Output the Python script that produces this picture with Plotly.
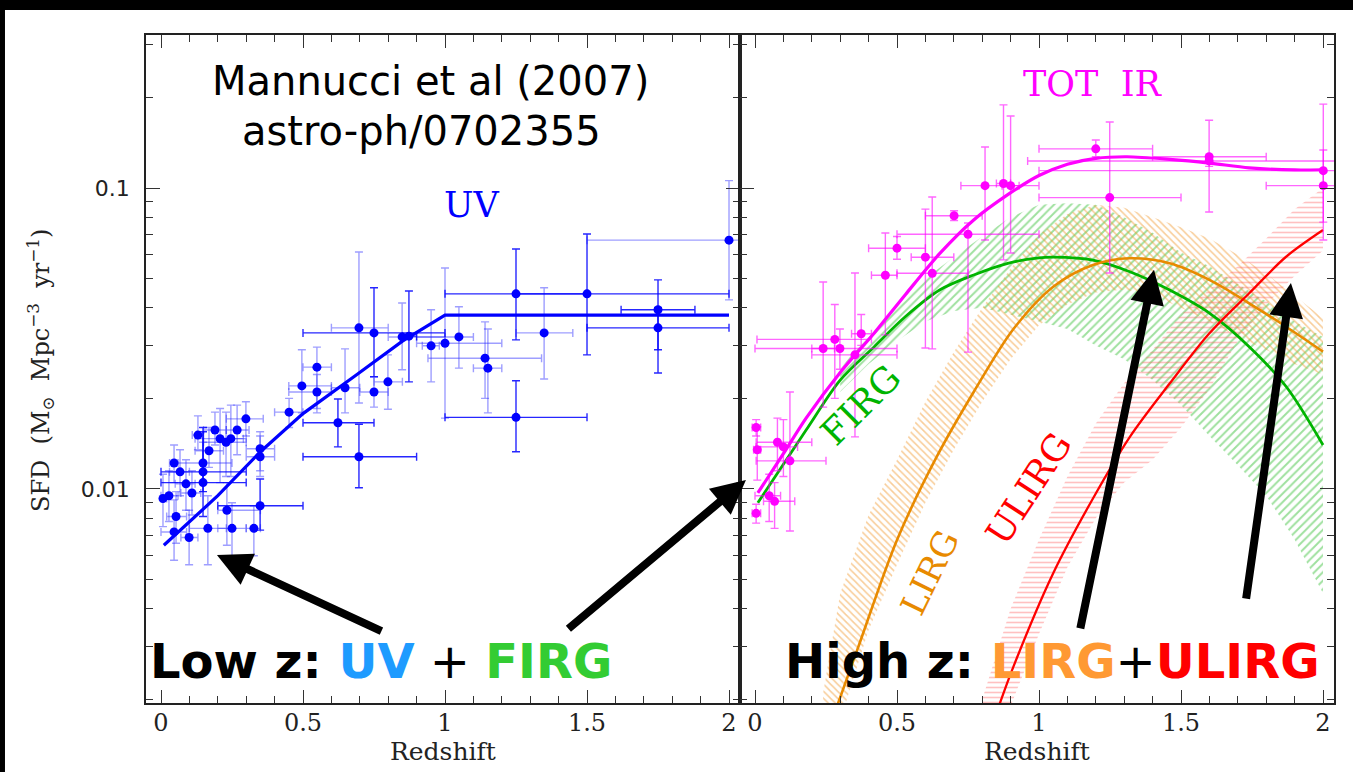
import numpy as np
import plotly.graph_objects as go

# ---------------- UV star-formation density (left panel) ----------------
uv_z = [0.007, 0.028, 0.046, 0.067, 0.088, 0.109, 0.053, 0.046, 0.099, 0.130,
        0.148, 0.148, 0.148, 0.169, 0.165, 0.190, 0.208, 0.229, 0.246, 0.268,
        0.232, 0.250, 0.299, 0.327, 0.349, 0.349, 0.349, 0.451, 0.496, 0.549,
        0.549, 0.623, 0.648, 0.697, 0.697, 0.750, 0.750, 0.799, 0.849, 0.873,
        0.951, 1.000, 1.049, 1.141, 1.151, 1.250, 1.250, 1.349, 1.500, 1.750,
        1.750, 2.000]
uv_sfd = [0.0093, 0.0095, 0.0122, 0.0114, 0.0104, 0.0097, 0.0081, 0.0072, 0.0069, 0.0151,
          0.0122, 0.0114, 0.0105, 0.0134, 0.0074, 0.0157, 0.0147, 0.0143, 0.0147, 0.0157,
          0.0085, 0.0074, 0.0171, 0.0074, 0.0136, 0.0128, 0.0088, 0.0180, 0.0220, 0.0254,
          0.0210, 0.0166, 0.0217, 0.0343, 0.0128, 0.0330, 0.0210, 0.0227, 0.0320, 0.0322,
          0.0299, 0.0305, 0.0320, 0.0272, 0.0252, 0.0445, 0.0173, 0.0330, 0.0445, 0.0394,
          0.0343, 0.0671]
uv_z_lo = [0.0, 0.0, 0.03, 0.03, 0.05, 0.07, 0.02, 0.0, 0.07, 0.11,
           0.05, 0.0, 0.0, 0.12, 0.10, 0.15, 0.12, 0.15, 0.20, 0.23,
           0.20, 0.20, 0.23, 0.30, 0.30, 0.30, 0.20, 0.40, 0.45, 0.50,
           0.45, 0.50, 0.60, 0.60, 0.50, 0.50, 0.70, 0.75, 0.80, 0.85,
           0.92, 0.90, 0.90, 0.94, 1.10, 1.00, 1.00, 1.25, 1.25, 1.62,
           1.50, 1.50]
uv_z_hi = [0.02, 0.06, 0.06, 0.10, 0.12, 0.14, 0.09, 0.09, 0.13, 0.15,
           0.25, 0.30, 0.30, 0.22, 0.23, 0.23, 0.30, 0.30, 0.29, 0.31,
           0.35, 0.30, 0.36, 0.35, 0.40, 0.40, 0.50, 0.50, 0.60, 0.60,
           0.60, 0.75, 0.70, 0.80, 0.90, 1.00, 0.80, 0.85, 1.00, 0.90,
           0.98, 1.20, 1.10, 1.34, 1.20, 1.50, 1.50, 1.45, 2.00, 1.88,
           2.00, 2.50]
uv_sfd_lo = [0.0075, 0.0078, 0.0105, 0.0095, 0.0085, 0.0082, 0.0066, 0.0058, 0.0056, 0.0135,
             0.0105, 0.0098, 0.0081, 0.0118, 0.0056, 0.0140, 0.0105, 0.0110, 0.0110, 0.0130,
             0.0065, 0.0060, 0.0150, 0.0060, 0.0115, 0.0110, 0.0073, 0.0160, 0.0179, 0.0179,
             0.0185, 0.0138, 0.0179, 0.0193, 0.0101, 0.0236, 0.0187, 0.0184, 0.0249, 0.0227,
             0.0227, 0.0172, 0.0252, 0.0200, 0.0179, 0.0313, 0.0133, 0.0232, 0.0279, 0.0290,
             0.0243, 0.0425]
uv_sfd_hi = [0.0112, 0.0115, 0.0140, 0.0135, 0.0125, 0.0115, 0.0098, 0.0092, 0.0085, 0.0175,
             0.0143, 0.0155, 0.0160, 0.0160, 0.0095, 0.0180, 0.0185, 0.0180, 0.0190, 0.0190,
             0.0105, 0.0090, 0.0195, 0.0088, 0.0155, 0.0150, 0.0108, 0.0200, 0.0290, 0.0296,
             0.0240, 0.0199, 0.0292, 0.0613, 0.0164, 0.0466, 0.0236, 0.0279, 0.0415, 0.0455,
             0.0394, 0.0542, 0.0403, 0.0359, 0.0340, 0.0627, 0.0229, 0.0466, 0.0703, 0.0495,
             0.0400, 0.1058]
# error bars drawn in the stronger shade (1-based point numbers)
uv_strong = [12, 13, 27, 32, 35, 36, 40, 46, 47, 49, 50, 51]

uv_fit_z = [0.01, 0.20, 0.35, 0.50, 0.69, 0.85, 1.0, 2.0]
uv_fit_sfd = [0.0065, 0.0095, 0.0133, 0.0178, 0.0240, 0.0310, 0.0378, 0.0378]

# ---------------- Total IR star-formation density (right panel) ----------------
ir_z = [0.004, 0.008, 0.004, 0.050, 0.069, 0.079, 0.100, 0.123, 0.240, 0.281,
        0.299, 0.352, 0.374, 0.459, 0.500, 0.600, 0.624, 0.701, 0.750, 0.810,
        0.875, 0.900, 1.200, 1.249, 1.599, 1.599, 2.001, 2.001]
ir_sfd = [0.0160, 0.0135, 0.0083, 0.0095, 0.0091, 0.0143, 0.0138, 0.0124, 0.0293, 0.0314,
          0.0293, 0.0279, 0.0328, 0.0513, 0.0631, 0.0589, 0.0521, 0.0809, 0.0702, 0.1018,
          0.1035, 0.1018, 0.1349, 0.0929, 0.1270, 0.1230, 0.1142, 0.1018]
ir_z_lo = [-0.01, -0.005, -0.01, 0.0, 0.03, 0.004, 0.004, 0.004, 0.20, 0.007,
           0.0, 0.20, 0.34, 0.41, 0.40, 0.55, 0.50, 0.60, 0.50, 0.725,
           0.85, 0.87, 1.00, 1.00, 1.40, 0.96, 1.00, 1.80]
ir_z_hi = [0.02, 0.02, 0.02, 0.09, 0.14, 0.20, 0.15, 0.25, 0.28, 0.41,
           0.50, 0.50, 0.41, 0.50, 0.60, 0.70, 0.75, 0.80, 1.00, 1.00,
           0.90, 0.93, 1.40, 1.50, 1.80, 2.30, 2.30, 2.30]
ir_sfd_lo = [0.0150, 0.0107, 0.0077, 0.0078, 0.0074, 0.0115, 0.0110, 0.00725, 0.0187, 0.0200,
             0.0250, 0.0149, 0.0300, 0.0325, 0.0580, 0.0294, 0.0292, 0.0780, 0.0285, 0.0672,
             0.0577, 0.0608, 0.1270, 0.0522, 0.0832, 0.1180, 0.0672, 0.0770]
ir_sfd_hi = [0.0170, 0.0161, 0.0089, 0.0112, 0.0105, 0.0172, 0.0170, 0.0210, 0.0487, 0.0410,
             0.0340, 0.0522, 0.0380, 0.0709, 0.0690, 0.0851, 0.0933, 0.0840, 0.0765, 0.1368,
             0.1888, 0.1734, 0.1443, 0.1656, 0.1680, 0.1280, 0.1900, 0.1337]

tot_z = [0.01, 0.10, 0.18, 0.30, 0.42, 0.53, 0.65, 0.77, 0.89, 1.00,
         1.10, 1.20, 1.31, 1.46, 1.60, 1.74, 1.90, 2.00]
tot_sfd = [0.0097, 0.0131, 0.0172, 0.0244, 0.0330, 0.0443, 0.0605, 0.0783, 0.0950, 0.1100,
           0.1200, 0.1255, 0.1270, 0.1245, 0.1210, 0.1167, 0.1148, 0.1150]

firg_z = [0.01, 0.18, 0.30, 0.42, 0.53, 0.65, 0.77, 0.89, 1.00, 1.05,
          1.19, 1.32, 1.46, 1.60, 1.74, 1.87, 2.00]
firg_sfd = [0.0090, 0.0157, 0.0230, 0.0297, 0.0374, 0.0458, 0.0514, 0.0562, 0.0586, 0.0589,
            0.0576, 0.0527, 0.0458, 0.0384, 0.0297, 0.0219, 0.0140]

lirg_z = [0.28, 0.36, 0.50, 0.64, 0.77, 0.91, 1.05, 1.19, 1.32, 1.46, 1.60, 1.74, 1.87, 2.00]
lirg_sfd = [0.0018, 0.00292, 0.00677, 0.0128, 0.0210, 0.0340, 0.0470, 0.0555, 0.0584, 0.0562,
            0.0495, 0.0414, 0.0346, 0.0286]

ulirg_z = [0.85, 0.91, 1.05, 1.19, 1.32, 1.46, 1.60, 1.74, 1.87, 2.00]
ulirg_sfd = [0.0018, 0.00257, 0.00525, 0.0093, 0.0149, 0.0224, 0.0329, 0.0447, 0.0591, 0.0725]

# uncertainty bands
firg_band_z = [0.3, 0.4, 0.5, 0.6, 0.7, 0.8, 0.9, 1.0, 1.1, 1.2, 1.3, 1.4, 1.5, 1.6, 1.7, 1.8, 1.9, 2.0]
firg_band_hi = [0.0250, 0.033, 0.041, 0.050, 0.059, 0.069, 0.080, 0.088, 0.089, 0.088,
                0.080, 0.071, 0.061, 0.055, 0.048, 0.042, 0.036, 0.032]
firg_band_lo = [0.0210, 0.026, 0.031, 0.036, 0.039, 0.040, 0.038, 0.036, 0.034, 0.030,
                0.027, 0.023, 0.019, 0.015, 0.012, 0.0095, 0.0068, 0.0045]

lirg_band_z = [0.24, 0.3, 0.4, 0.5, 0.6, 0.7, 0.8, 0.9, 1.0, 1.1, 1.2, 1.3, 1.4, 1.5, 1.6, 1.7, 1.8, 1.9, 2.0]
lirg_band_hi = [0.0021, 0.0045, 0.0082, 0.0125, 0.0195, 0.0285, 0.040, 0.054, 0.070, 0.082,
                0.088, 0.086, 0.080, 0.074, 0.068, 0.060, 0.052, 0.044, 0.037]
lirg_band_lo = [0.0012, 0.0017, 0.0034, 0.0056, 0.0090, 0.0135, 0.0195, 0.027, 0.035, 0.041,
                0.045, 0.046, 0.044, 0.040, 0.036, 0.032, 0.029, 0.026, 0.024]

ulirg_band_z = [0.80, 0.9, 1.0, 1.1, 1.2, 1.3, 1.4, 1.5, 1.6, 1.7, 1.8, 1.9, 2.0]
ulirg_band_hi = [0.0020, 0.0040, 0.0068, 0.0110, 0.0165, 0.0225, 0.029, 0.038, 0.046, 0.055,
                 0.068, 0.085, 0.100]
ulirg_band_lo = [0.0012, 0.0019, 0.0033, 0.0055, 0.0080, 0.0105, 0.0125, 0.016, 0.0215, 0.031,
                 0.041, 0.051, 0.062]

# axis ticks
x_major = [0, 0.5, 1, 1.5, 2]
x_major_text = ["0", "0.5", "1", "1.5", "2"]
x_minor = [0.1, 0.2, 0.3, 0.4, 0.6, 0.7, 0.8, 0.9, 1.1, 1.2, 1.3, 1.4, 1.6, 1.7, 1.8, 1.9]
y_major = [0.01, 0.1]
y_major_text = ["0.01", "0.1"]
y_minor = [0.002, 0.003, 0.004, 0.005, 0.006, 0.007, 0.008, 0.009,
           0.02, 0.03, 0.04, 0.05, 0.06, 0.07, 0.08, 0.09, 0.2, 0.3]

# ---------------- colours & fonts ----------------
BLUE = "#0000ff"
MAGENTA = "#ff00ff"
GREEN = "#00b400"
ORANGE = "#e88a00"
RED = "#ff0000"
SERIF = "DejaVu Serif"
SANS = "DejaVu Sans"

fig = go.Figure()


def err_trace(z, v, zlo, zhi, vlo, vhi, idx, color, ecolor, msize, xa, ya):
    z = np.asarray(z)[idx]
    v = np.asarray(v)[idx]
    zlo = np.asarray(zlo)[idx]
    zhi = np.asarray(zhi)[idx]
    vlo = np.asarray(vlo)[idx]
    vhi = np.asarray(vhi)[idx]
    return go.Scatter(
        x=z, y=v, mode="markers", xaxis=xa, yaxis=ya,
        marker=dict(color=color, size=msize, line=dict(width=0)),
        error_x=dict(type="data", symmetric=False, array=zhi - z, arrayminus=z - zlo,
                     color=ecolor, thickness=1.4, width=4),
        error_y=dict(type="data", symmetric=False, array=vhi - v, arrayminus=v - vlo,
                     color=ecolor, thickness=1.4, width=4),
        hoverinfo="skip", showlegend=False)


# left panel: UV points and fit
n_uv = len(uv_z)
strong_idx = [i - 1 for i in uv_strong]
faint_idx = [i for i in range(n_uv) if i not in strong_idx]
fig.add_trace(err_trace(uv_z, uv_sfd, uv_z_lo, uv_z_hi, uv_sfd_lo, uv_sfd_hi,
                        faint_idx, BLUE, "rgba(40,40,255,0.45)", 9, "x", "y"))
fig.add_trace(err_trace(uv_z, uv_sfd, uv_z_lo, uv_z_hi, uv_sfd_lo, uv_sfd_hi,
                        strong_idx, BLUE, "rgba(0,0,255,0.85)", 9, "x", "y"))
fig.add_trace(go.Scatter(x=uv_fit_z, y=uv_fit_sfd, mode="lines", xaxis="x", yaxis="y",
                         line=dict(color=BLUE, width=3.2), hoverinfo="skip", showlegend=False))


# right panel: hatched bands
def band(z, lo, hi, shape, color, size, solidity):
    return go.Scatter(
        x=list(z) + list(z)[::-1], y=list(hi) + list(lo)[::-1],
        mode="lines", fill="toself", fillcolor="rgba(0,0,0,0)",
        fillpattern=dict(shape=shape, fgcolor=color, bgcolor="rgba(0,0,0,0)",
                         size=size, solidity=solidity),
        line=dict(width=0), xaxis="x2", yaxis="y2", hoverinfo="skip", showlegend=False)


fig.add_trace(band(firg_band_z, firg_band_lo, firg_band_hi, "/", "rgba(50,190,50,0.95)", 6, 0.32))
fig.add_trace(band(lirg_band_z, lirg_band_lo, lirg_band_hi, "\\", "rgba(240,150,40,0.95)", 5, 0.32))
fig.add_trace(band(ulirg_band_z, ulirg_band_lo, ulirg_band_hi, "-", "rgba(255,100,100,0.8)", 5, 0.32))

for zz, vv, col, w in [(firg_z, firg_sfd, GREEN, 2.8), (lirg_z, lirg_sfd, ORANGE, 2.6),
                       (ulirg_z, ulirg_sfd, RED, 2.3)]:
    fig.add_trace(go.Scatter(x=zz, y=vv, mode="lines", xaxis="x2", yaxis="y2",
                             line=dict(color=col, width=w, shape="spline", smoothing=0.9),
                             hoverinfo="skip", showlegend=False))

fig.add_trace(err_trace(ir_z, ir_sfd, ir_z_lo, ir_z_hi, ir_sfd_lo, ir_sfd_hi,
                        list(range(len(ir_z))), MAGENTA, "rgba(255,0,255,0.6)", 9, "x2", "y2"))
fig.add_trace(go.Scatter(x=tot_z, y=tot_sfd, mode="lines", xaxis="x2", yaxis="y2",
                         line=dict(color=MAGENTA, width=3.2, shape="spline", smoothing=0.8),
                         hoverinfo="skip", showlegend=False))

# ---------------- axes ----------------
x_range = [-0.0528, 2.0387]
y_range = [-2.711, -0.4917]
axis_common = dict(showline=True, linecolor="#222222", linewidth=1.5, mirror="ticks",
                   ticks="inside", tickcolor="#333333", tickwidth=1.3,
                   showgrid=False, zeroline=False)
xcommon = dict(axis_common, range=x_range, tickmode="array", tickvals=x_major,
               ticktext=x_major_text, ticklen=13,
               tickfont=dict(family=SERIF, size=24, color="#222222"),
               minor=dict(tickmode="array", tickvals=x_minor, ticks="inside", ticklen=7,
                          tickcolor="#333333", tickwidth=1.3, showgrid=False))
ycommon = dict(axis_common, type="log", range=y_range, tickmode="array", tickvals=y_major,
               ticktext=y_major_text, ticklen=14,
               tickfont=dict(family=SANS, size=22, color="#222222"),
               minor=dict(tickmode="array", tickvals=y_minor, ticks="inside", ticklen=7,
                          tickcolor="#333333", tickwidth=1.3, showgrid=False))

fig.update_layout(
    width=1353, height=772,
    margin=dict(l=146, r=19, t=35, b=69),
    paper_bgcolor="white", plot_bgcolor="white",
    xaxis=dict(xcommon, domain=[0, 0.5], anchor="y", ticklabelstandoff=-3),
    xaxis2=dict(xcommon, domain=[0.5, 1], anchor="y2", ticklabelstandoff=-3),
    yaxis=dict(ycommon, domain=[0, 1], anchor="x", ticklabelstandoff=10),
    yaxis2=dict(ycommon, domain=[0, 1], anchor="x2", showticklabels=False),
    showlegend=False,
)

# ---------------- text ----------------
ann = []
ann.append(dict(text="Mannucci et al (2007)", xref="paper", yref="paper", x=0.2391, y=0.9311,
                xanchor="center", yanchor="middle", showarrow=False,
                font=dict(family=SANS, size=40, color="black")))
ann.append(dict(text="astro-ph/0702355", xref="paper", yref="paper", x=0.2315, y=0.8563,
                xanchor="center", yanchor="middle", showarrow=False,
                font=dict(family=SANS, size=40, color="black")))
ann.append(dict(text="UV", xref="x", yref="y", x=1.095, y=-1.0565, showarrow=False,
                font=dict(family=SERIF, size=35, color=BLUE)))
ann.append(dict(text="TOT  IR", xref="x2", yref="y2", x=1.19, y=-0.6545, showarrow=False,
                font=dict(family=SERIF, size=35, color=MAGENTA)))
ann.append(dict(text="FIRG", xref="x2", yref="y2", x=0.37, y=-1.721, showarrow=False,
                textangle=-45, font=dict(family=SERIF, size=36, color=GREEN)))
ann.append(dict(text="LIRG", xref="x2", yref="y2", x=0.616, y=-2.276, showarrow=False,
                textangle=-64, font=dict(family=SERIF, size=34, color=ORANGE)))
ann.append(dict(text="ULIRG", xref="x2", yref="y2", x=0.965, y=-2.0, showarrow=False,
                textangle=-57, font=dict(family=SERIF, size=36, color=RED)))
ann.append(dict(text="Redshift", xref="x domain", yref="paper", x=0.5, y=-0.0726,
                xanchor="center", yanchor="middle", showarrow=False,
                font=dict(family=SERIF, size=25, color="#222222")))
ann.append(dict(text="Redshift", xref="x2 domain", yref="paper", x=0.5, y=-0.0726,
                xanchor="center", yanchor="middle", showarrow=False,
                font=dict(family=SERIF, size=25, color="#222222")))
ann.append(dict(text="SFD  (M<sub>⊙</sub>  Mpc<sup>−3</sup>  yr<sup>−1</sup>)", xref="paper",
                yref="paper", x=-0.0892, y=0.497, textangle=-90, showarrow=False,
                xanchor="center", yanchor="middle",
                font=dict(family=SERIF, size=24, color="#222222")))
ann.append(dict(text="<b>Low z: </b><span style='color:#1e9bff'><b>UV</b></span> + "
                     "<span style='color:#33cc33'><b>FIRG</b></span>",
                xref="paper", yref="paper", x=0.0017, y=0.0629, xanchor="left",
                yanchor="middle", showarrow=False, font=dict(family=SANS, size=48, color="black")))
ann.append(dict(text="<b>High z: </b><span style='color:#ff9933'><b>LIRG</b></span>+"
                     "<span style='color:#ff0000'><b>ULIRG</b></span>",
                xref="paper", yref="paper", x=0.5362, y=0.0629, xanchor="left",
                yanchor="middle", showarrow=False, font=dict(family=SANS, size=48, color="black")))

# arrows
arrow_style = dict(text="", showarrow=True, arrowhead=2, arrowsize=0.85, arrowwidth=8,
                   arrowcolor="black", standoff=0, startstandoff=0)
ann.append(dict(arrow_style, xref="x", yref="y", x=0.197, y=-2.219, ax=166, ay=77))
ann.append(dict(arrow_style, xref="x2", yref="y2", x=-0.032, y=-1.970, ax=-179, ay=150))
ann.append(dict(arrow_style, xref="x2", yref="y2", x=1.405, y=-1.272, ax=-74, ay=360))
ann.append(dict(arrow_style, xref="x2", yref="y2", x=1.887, y=-1.316, ax=-45, ay=317))

fig.update_layout(annotations=ann)

# black border strips along the top and left edges of the page
fig.add_shape(type="rect", xref="paper", yref="paper", x0=-0.1229, x1=1.016,
              y0=1.0374, y1=1.06, fillcolor="black", line=dict(width=0), layer="above")
fig.add_shape(type="rect", xref="paper", yref="paper", x0=-0.1229, x1=-0.1187,
              y0=-0.11, y1=1.06, fillcolor="black", line=dict(width=0), layer="above")

fig.write_html("out.html")
